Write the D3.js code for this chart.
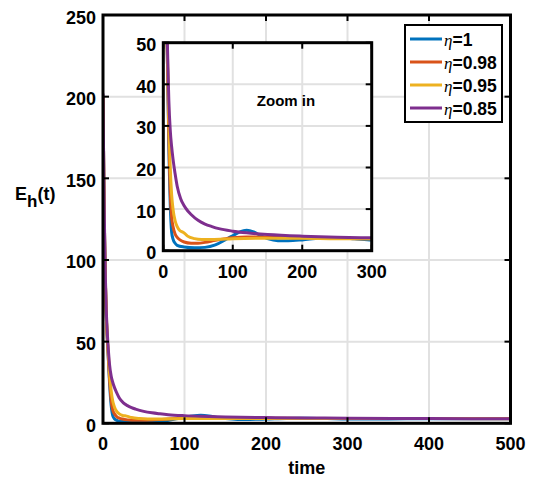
<!DOCTYPE html>
<html><head><meta charset="utf-8">
<script src="https://cdn.jsdelivr.net/npm/d3@7"></script>
<style>body{margin:0;background:#fff}svg{display:block}text{font-family:"Liberation Sans",Arial,sans-serif;font-weight:bold;fill:#000}</style>
</head><body><svg id="c" width="538" height="483"></svg>
<script>
// ---- data ----
const seriesNames = ["η=1", "η=0.98", "η=0.95", "η=0.85"];
const seriesColors = ["#0072BD", "#D95319", "#EDB120", "#7E2F8E"];
const tBlue   = [0,1,2,3,4,5,6,7,8,9,10,11,12,14,17,20,30,45,60,75,90,100,110,120,130,140,150,165,180,200,225,250,275,300,350,400,450,500];
const eBlue   = [200,150,112,85,66,54,45,35,25,17,11,7,4.5,2.8,1.8,1.3,0.9,0.7,0.8,1.4,2.7,3.6,4.5,4.9,4.5,3.6,2.9,2.4,2.4,2.6,3.0,3.1,2.9,2.6,2.7,2.8,2.8,2.8];
const tOrange = [0,1,2,3,4,5,6,7,8,9,10,12,14,17,20,24,30,40,50,60,75,90,100,120,150,200,250,300,400,500];
const eOrange = [200,150,112,85,66,54,45,36,27,20,14,8,5.8,4,3.2,2.6,2.1,1.8,1.8,2.0,2.5,2.9,3.1,3.3,3.3,3.1,3.0,2.9,2.9,2.9];
const tYellow = [0,1,2,3,4,5,6,7,8,9,10,12,14,17,20,24,29,35,45,55,70,100,150,200,250,300,500];
const eYellow = [200,150,112,86,68,56,47,39,31,25,20,13.5,10,7.2,5.8,4.8,4.4,3.5,2.9,2.7,2.7,2.9,3.0,3.0,2.9,2.9,2.8];
const tPurple = [0,1,2,3,4,5,6,7,8,10,12,14,17,20,25,30,35,40,50,60,70,80,100,120,150,200,250,300,400,500];
const ePurple = [202,152,115,88,70,58,49,42,36,29,25,22,18.5,15.5,12.5,10.8,9.6,8.7,7.3,6.4,5.8,5.3,4.7,4.3,3.9,3.5,3.25,3.1,2.9,2.8];
const mainXTicks = [0,100,200,300,400,500];
const mainYTicks = [0,50,100,150,200,250];
const insetXTicks = [0,100,200,300];
const insetYTicks = [0,10,20,30,40,50];
const xLabel = "time";
const insetNote = "Zoom in";

const series = [[tBlue,eBlue],[tOrange,eOrange],[tYellow,eYellow],[tPurple,ePurple]]
  .map(([t,e],i)=>({name:seriesNames[i],color:seriesColors[i],pts:t.map((v,j)=>[v,e[j]])}));

const svg = d3.select("#c");
const GRID = "#e1e1e1";

function drawAxes(g, x, y, xt, yt, id, bg) {
  const [x0,x1] = x.range(), [y0,y1] = y.range(); // y0 bottom, y1 top
  if (bg) g.append("rect").attr("x",x0).attr("y",y1).attr("width",x1-x0).attr("height",y0-y1).attr("fill","#fff");
  g.selectAll(null).data(xt.slice(1,-1)).join("line").attr("x1",d=>x(d)).attr("x2",d=>x(d))
    .attr("y1",y1).attr("y2",y0).attr("stroke",GRID).attr("stroke-width",2);
  g.selectAll(null).data(yt.slice(1,-1)).join("line").attr("y1",d=>y(d)).attr("y2",d=>y(d))
    .attr("x1",x0).attr("x2",x1).attr("stroke",GRID).attr("stroke-width",2);
  svg.append("clipPath").attr("id",id).append("rect").attr("x",x0).attr("y",y1).attr("width",x1-x0).attr("height",y0-y1);
  const line = d3.line().x(d=>x(d[0])).y(d=>y(d[1])).curve(d3.curveMonotoneX);
  const lg = g.append("g").attr("clip-path",`url(#${id})`);
  series.forEach(s=>lg.append("path").attr("d",line(s.pts)).attr("fill","none").attr("stroke",s.color).attr("stroke-width",3).attr("stroke-linejoin","round"));
  const tl = 6;
  xt.forEach(d=>{
    g.append("line").attr("x1",x(d)).attr("x2",x(d)).attr("y1",y0).attr("y2",y0-tl).attr("stroke","#000").attr("stroke-width",2);
    g.append("line").attr("x1",x(d)).attr("x2",x(d)).attr("y1",y1).attr("y2",y1+tl).attr("stroke","#000").attr("stroke-width",2);
  });
  yt.forEach(d=>{
    g.append("line").attr("y1",y(d)).attr("y2",y(d)).attr("x1",x0).attr("x2",x0+tl).attr("stroke","#000").attr("stroke-width",2);
    g.append("line").attr("y1",y(d)).attr("y2",y(d)).attr("x1",x1).attr("x2",x1-tl).attr("stroke","#000").attr("stroke-width",2);
  });
  g.append("rect").attr("x",x0).attr("y",y1).attr("width",x1-x0).attr("height",y0-y1)
    .attr("fill","none").attr("stroke","#000").attr("stroke-width",3);
  g.selectAll(null).data(xt).join("text").attr("x",d=>x(d)).attr("y",y0+27).attr("text-anchor","middle")
    .attr("font-size",18).text(d=>d);
  g.selectAll(null).data(yt).join("text").attr("x",x0-7).attr("y",d=>y(d)+8.5).attr("text-anchor","end")
    .attr("font-size",18).text(d=>d);
}

// main axes
const xM = d3.scaleLinear().domain([0,500]).range([103,510.5]);
const yM = d3.scaleLinear().domain([0,250]).range([423.3,15]);
const gM = svg.append("g");
drawAxes(gM, xM, yM, mainXTicks, mainYTicks, "clipMain", false);

svg.append("text").attr("x",(xM(0)+xM(500))/2).attr("y",474).attr("text-anchor","middle").attr("font-size",18).text(xLabel);
const yl = svg.append("text").attr("x",15).attr("y",200).attr("font-size",18);
yl.append("tspan").text("E");
yl.append("tspan").attr("dy",7).attr("font-size",17).text("h");
yl.append("tspan").attr("dy",-7).text("(t)");

// inset
const xI = d3.scaleLinear().domain([0,300]).range([163.3,371.7]);
const yI = d3.scaleLinear().domain([0,50]).range([250.7,42.7]);
const gI = svg.append("g");
drawAxes(gI, xI, yI, insetXTicks, insetYTicks, "clipInset", true);
svg.append("text").attr("x",286).attr("y",106).attr("text-anchor","middle").attr("font-size",15).text(insetNote);

// legend
const lgX = 405, lgY = 25, lgW = 97, lgH = 97;
const leg = svg.append("g");
leg.append("rect").attr("x",lgX).attr("y",lgY).attr("width",lgW).attr("height",lgH).attr("fill","#fff").attr("stroke","#000").attr("stroke-width",2);
series.forEach((s,i)=>{
  const yy = lgY + 14 + i*23;
  leg.append("line").attr("x1",lgX+5).attr("x2",lgX+37).attr("y1",yy).attr("y2",yy).attr("stroke",s.color).attr("stroke-width",3);
  const t = leg.append("text").attr("x",lgX+39).attr("y",yy+6.5).attr("font-size",17.5);
  t.append("tspan").attr("font-family","'Liberation Serif','DejaVu Serif',serif").attr("font-style","italic").attr("font-weight","normal").attr("font-size",17).text(s.name.slice(0,1));
  t.append("tspan").text(s.name.slice(1));
});
</script></body></html>
